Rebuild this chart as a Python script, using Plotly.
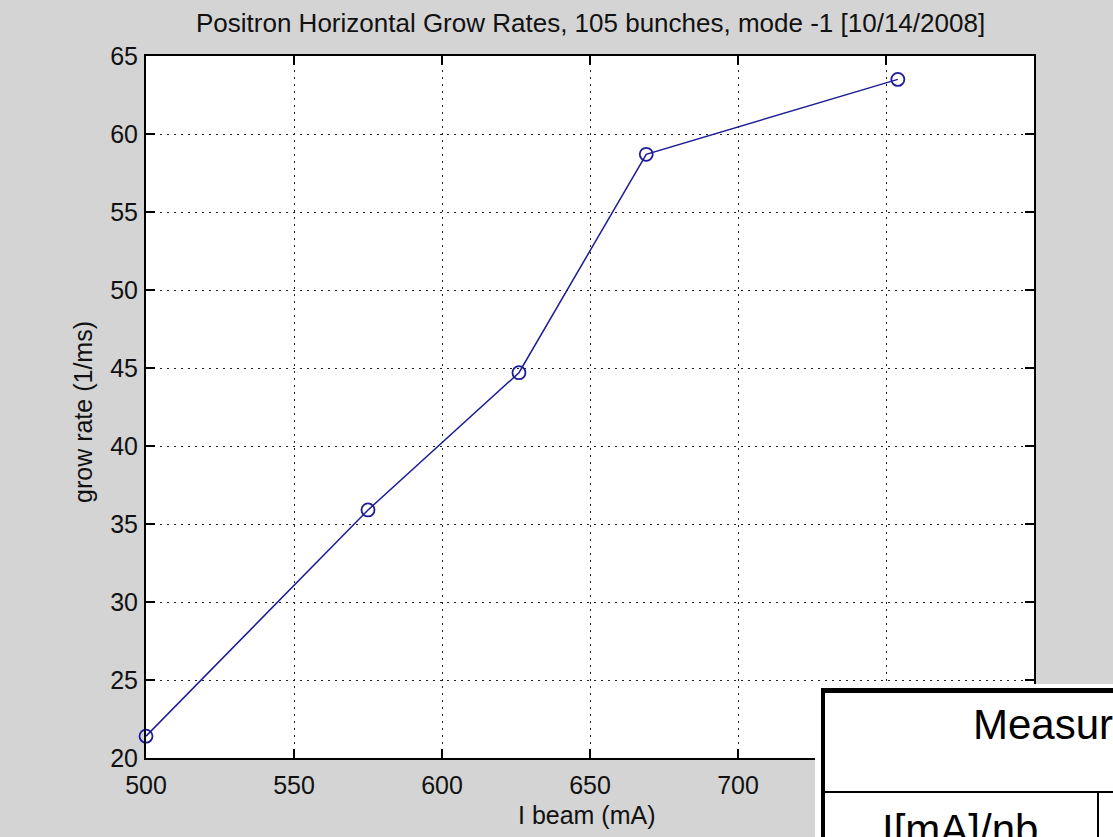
import plotly.graph_objects as go

# Measured horizontal grow rates vs. beam current
i_beam_mA = [500, 575, 626, 669, 754]
grow_rate = [21.4, 35.9, 44.7, 58.7, 63.5]

x_ticks = [500, 550, 600, 650, 700, 750, 800]
y_ticks = [20, 25, 30, 35, 40, 45, 50, 55, 60, 65]

title_text = "Positron Horizontal Grow Rates, 105 bunches, mode -1 [10/14/2008]"
x_label = "I beam (mA)"
y_label = "grow rate (1/ms)"
table_header = "Measured"
table_cell = "I[mA]/nb"

W, H = 1113, 837
L, R, T, B = 146, 79, 56, 79
PW, PH = W - L - R, H - T - B

FONT = "Liberation Sans, Arial, sans-serif"
BG = "#d4d4d4"
LINE_BLUE = "#1c1c96"


def px(xp):
    """figure pixel x -> paper x"""
    return (xp - L) / PW


def py(yp):
    """figure pixel y (from top) -> paper y"""
    return (H - B - yp) / PH


fig = go.Figure()
fig.add_trace(go.Scatter(
    x=i_beam_mA, y=grow_rate, mode="lines+markers",
    line=dict(color=LINE_BLUE, width=1.5),
    marker=dict(symbol="circle-open", size=13, color=LINE_BLUE,
                line=dict(width=1.8, color=LINE_BLUE)),
    showlegend=False, cliponaxis=False,
))

axis_common = dict(
    showline=True, linecolor="black", linewidth=2, mirror="ticks",
    ticks="inside", ticklen=9, tickwidth=1.5, tickcolor="black",
    showgrid=True, gridcolor="#222222", gridwidth=1.2, griddash="2px,5px",
    zeroline=False, tickfont=dict(family=FONT, size=25, color="#111111"),
)

fig.update_xaxes(range=[500, 800], tickvals=x_ticks,
                 ticktext=[str(v) for v in x_ticks], ticklabelstandoff=4,
                 **axis_common)
fig.update_yaxes(range=[20, 65], tickvals=y_ticks,
                 ticktext=[str(v) for v in y_ticks], ticklabelstandoff=1,
                 **axis_common)

annotations = [
    dict(text=title_text, xref="paper", yref="paper", x=0.5, y=py(23),
         xanchor="center", yanchor="middle", showarrow=False,
         font=dict(family=FONT, size=26, color="#111111")),
    dict(text=x_label, xref="paper", yref="paper", x=px(587), y=py(815),
         xanchor="center", yanchor="middle", showarrow=False,
         font=dict(family=FONT, size=25, color="#111111")),
    dict(text=y_label, xref="paper", yref="paper", x=px(83), y=py(412),
         xanchor="center", yanchor="middle", showarrow=False, textangle=-90,
         font=dict(family=FONT, size=25, color="#111111")),
    # table overlay text
    dict(text=table_header, xref="paper", yref="paper", x=px(971), y=py(724),
         xanchor="left", yanchor="middle", showarrow=False,
         font=dict(family=FONT, size=42, color="black")),
    dict(text=table_cell, xref="paper", yref="paper", x=px(960), y=py(829),
         xanchor="center", yanchor="middle", showarrow=False,
         font=dict(family=FONT, size=42, color="black")),
]

shapes = [
    # white table background with outer white margin
    dict(type="rect", xref="paper", yref="paper", layer="above",
         x0=px(815), x1=px(1130), y0=py(684), y1=py(850),
         fillcolor="white", line=dict(width=0)),
    # thick outer border (top and left)
    dict(type="rect", xref="paper", yref="paper", layer="above",
         x0=px(821), x1=px(1130), y0=py(688), y1=py(693),
         fillcolor="black", line=dict(width=0)),
    dict(type="rect", xref="paper", yref="paper", layer="above",
         x0=px(821), x1=px(825), y0=py(688), y1=py(850),
         fillcolor="black", line=dict(width=0)),
    # row separator
    dict(type="rect", xref="paper", yref="paper", layer="above",
         x0=px(825), x1=px(1130), y0=py(791), y1=py(793),
         fillcolor="black", line=dict(width=0)),
    # column separator
    dict(type="rect", xref="paper", yref="paper", layer="above",
         x0=px(1097), x1=px(1099), y0=py(793), y1=py(850),
         fillcolor="black", line=dict(width=0)),
]

fig.update_layout(
    width=W, height=H,
    margin=dict(l=L, r=R, t=T, b=B, pad=0),
    paper_bgcolor=BG, plot_bgcolor="white",
    annotations=annotations, shapes=shapes,
    font=dict(family=FONT),
)

fig.write_html("out.html")
